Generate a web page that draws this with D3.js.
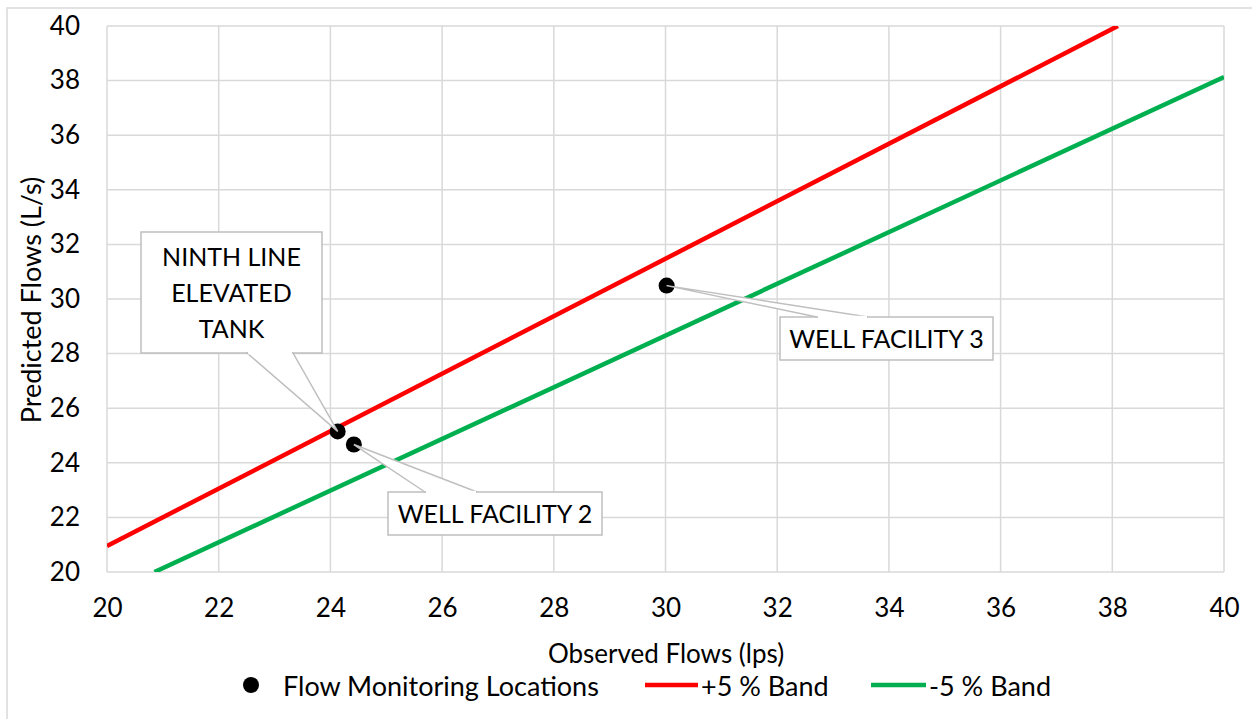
<!DOCTYPE html>
<html><head><meta charset="utf-8">
<script src="https://cdn.jsdelivr.net/npm/d3@7"></script>
<style>
body{margin:0;background:#fff;}
text{font-family:Lato,"Open Sans",sans-serif;fill:#000;}
</style></head>
<body><svg id="c" width="1252" height="719"></svg>
<script>
const xTicks=[20,22,24,26,28,30,32,34,36,38,40];
const yTicks=[20,22,24,26,28,30,32,34,36,38,40];
const locNames=["NINTH LINE ELEVATED TANK","WELL FACILITY 2","WELL FACILITY 3"];
const locObserved=[24.13,24.42,30.02];
const locPredicted=[25.15,24.67,30.49];
const plusBand=[[20,20.95],[38.1,40]];
const minusBand=[[20.85,20],[40,38.13]];
const legendLabels=["Flow Monitoring Locations","+5 % Band","-5 % Band"];

const svg=d3.select("#c");
const L=107,R=1224,T=26,B=572;
const x=d3.scaleLinear().domain([20,40]).range([L,R]);
const y=d3.scaleLinear().domain([20,40]).range([B,T]);
const grid="#d9d9d9";
const FS="26px";

svg.append("rect").attr("x",7).attr("y",8).attr("width",1260).attr("height",730)
  .attr("fill","#fff").attr("stroke",grid).attr("stroke-width",1.5);

svg.append("g").selectAll("line").data(xTicks).join("line")
  .attr("x1",d=>x(d)).attr("x2",d=>x(d)).attr("y1",T).attr("y2",B)
  .attr("stroke",grid).attr("stroke-width",1.5);
svg.append("g").selectAll("line").data(yTicks).join("line")
  .attr("y1",d=>y(d)).attr("y2",d=>y(d)).attr("x1",L).attr("x2",R)
  .attr("stroke",grid).attr("stroke-width",1.5);

const xa=svg.append("g").attr("transform",`translate(0,${B})`)
  .call(d3.axisBottom(x).tickValues(xTicks).tickSize(0).tickPadding(27).tickFormat(d3.format("d")));
xa.select(".domain").remove();
xa.selectAll("text").style("font-size",FS).style("font-family","Lato");
const ya=svg.append("g").attr("transform",`translate(${L},0)`)
  .call(d3.axisLeft(y).tickValues(yTicks).tickSize(0).tickPadding(27).tickFormat(d3.format("d")));
ya.select(".domain").remove();
ya.selectAll("text").style("font-size",FS).style("font-family","Lato");

svg.append("text").attr("x",666).attr("y",663).attr("text-anchor","middle")
  .style("font-size","26px").text("Observed Flows (lps)");
svg.append("text").attr("transform",`translate(41,${300}) rotate(-90)`).attr("text-anchor","middle")
  .style("font-size","27px").text("Predicted Flows (L/s)");

svg.append("clipPath").attr("id","pc").append("rect").attr("x",L).attr("y",T).attr("width",R-L).attr("height",B-T);
const line=d3.line().x(d=>x(d[0])).y(d=>y(d[1]));
const lg=svg.append("g").attr("clip-path","url(#pc)");
lg.append("path").datum(plusBand).attr("d",line).attr("stroke","#ff0000").attr("stroke-width",4.5).attr("fill","none");
lg.append("path").datum(minusBand).attr("d",line).attr("stroke","#00b050").attr("stroke-width",4.5).attr("fill","none");

const pts=locNames.map((n,i)=>({name:n,x:locObserved[i],y:locPredicted[i]}));
svg.append("g").selectAll("circle").data(pts).join("circle")
  .attr("cx",d=>x(d.x)).attr("cy",d=>y(d.y)).attr("r",8).attr("fill","#000");

const callouts=[
  {i:0,box:[141,232,322,353],base:[247,293],lines:["NINTH LINE","ELEVATED","TANK"],side:"bottom"},
  {i:1,box:[388,492,602,535],base:[425,477],lines:["WELL FACILITY 2"],side:"top"},
  {i:2,box:[780,317,993,360],base:[817,868],lines:["WELL FACILITY 3"],side:"top"}
];
const cg=svg.append("g");
callouts.forEach(c=>{
  const p=pts[c.i];
  const px=x(p.x),py=y(p.y);
  const [x0,y0,x1,y1]=c.box;
  const by=c.side==="bottom"?y1:y0;
  cg.append("path").attr("d",`M${x0},${y0}H${x1}V${y1}H${x0}Z`).attr("fill","#fff").attr("stroke","#bfbfbf").attr("stroke-width",1.5);
  cg.append("path").attr("d",`M${c.base[0]},${by}L${px},${py}L${c.base[1]},${by}Z`).attr("fill","#fff").attr("stroke","#bfbfbf").attr("stroke-width",1.5);
  cg.append("line").attr("x1",c.base[0]+1).attr("x2",c.base[1]-1).attr("y1",by).attr("y2",by).attr("stroke","#fff").attr("stroke-width",2.5);
  const cx=(x0+x1)/2, n=c.lines.length, lh=36;
  const cy=(y0+y1)/2;
  c.lines.forEach((t,k)=>{
    cg.append("text").attr("x",cx).attr("y",cy+(k-(n-1)/2)*lh).attr("dy","0.36em")
      .attr("text-anchor","middle").style("font-size","25px").text(t);
  });
});

const leg=svg.append("g");
const ly=686;
leg.append("circle").attr("cx",251).attr("cy",ly-1).attr("r",8).attr("fill","#000");
leg.append("text").attr("x",283).attr("y",ly).attr("dy","0.36em").style("font-size","27px").text(legendLabels[0]);
leg.append("line").attr("x1",645).attr("x2",698).attr("y1",ly-1).attr("y2",ly-1).attr("stroke","#ff0000").attr("stroke-width",4.5);
leg.append("text").attr("x",701).attr("y",ly).attr("dy","0.36em").style("font-size","27px").text(legendLabels[1]);
leg.append("line").attr("x1",871).attr("x2",926).attr("y1",ly-1).attr("y2",ly-1).attr("stroke","#00b050").attr("stroke-width",4.5);
leg.append("text").attr("x",929).attr("y",ly).attr("dy","0.36em").style("font-size","27px").text(legendLabels[2]);
</script></body></html>
